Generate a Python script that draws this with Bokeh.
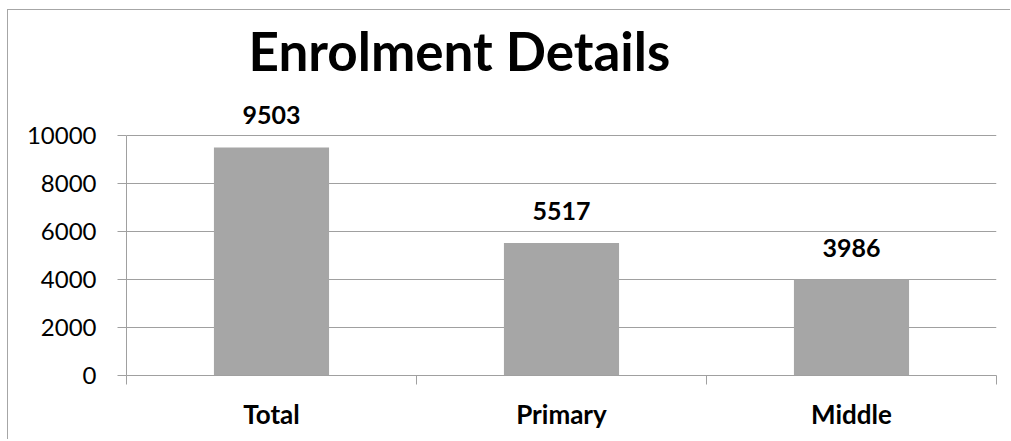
from bokeh.plotting import figure
from bokeh.models import ColumnDataSource, FixedTicker, LabelSet, Range1d
from bokeh.core.properties import value
from bokeh.embed import file_html
from bokeh.resources import INLINE

categories = ["Total", "Primary", "Middle"]
enrolment = [9503, 5517, 3986]
y_ticks = [0, 2000, 4000, 6000, 8000, 10000]

positions = [i + 0.5 for i in range(len(categories))]
boundaries = list(range(len(categories) + 1))

src = ColumnDataSource(dict(x=positions, y=enrolment, label=[str(v) for v in enrolment]))

GRAY = "#a6a6a6"
LINE = "#a0a0a0"
FONT = "Lato"

p = figure(width=1003, height=430, output_backend="svg", toolbar_location=None,
           x_range=Range1d(0, len(categories)), y_range=Range1d(0, 12000),
           min_border_left=118, min_border_right=15, min_border_top=77, min_border_bottom=65,
           title="Enrolment Details")
p.styles = {"margin-left": "7px", "margin-top": "9px",
            "border-left": "1px solid #a6a6a6", "border-top": "1px solid #a6a6a6"}
p.outline_line_color = None
p.background_fill_color = "white"
p.border_fill_color = "white"

p.title.text_font = FONT
p.title.text_font_size = "53px"
p.title.text_font_style = "bold"
p.title.text_color = "black"
p.title.align = "left"
p.title.offset = 122
p.title.standoff = 12

p.vbar(x="x", top="y", width=0.397, source=src, color=GRAY, line_color=None)

labels = LabelSet(x="x", y="y", text="label", source=src, text_align="center",
                  text_baseline="alphabetic", y_offset=23, text_font=value(FONT),
                  text_font_size=value("25px"), text_font_style="bold", text_color="black")
p.add_layout(labels)

# x axis
p.xaxis.ticker = FixedTicker(ticks=positions, minor_ticks=boundaries)
p.xaxis.major_label_overrides = {pos: c for pos, c in zip(positions, categories)}
p.xaxis.major_tick_line_color = None
p.xaxis.major_tick_in = 0
p.xaxis.major_tick_out = 0
p.xaxis.minor_tick_line_color = LINE
p.xaxis.minor_tick_in = 0
p.xaxis.minor_tick_out = 9
p.xaxis.axis_line_color = LINE
p.xaxis.major_label_text_font = FONT
p.xaxis.major_label_text_font_size = "26px"
p.xaxis.major_label_text_font_style = "bold"
p.xaxis.major_label_text_color = "black"
p.xaxis.major_label_standoff = 13
p.xgrid.grid_line_color = None

# y axis
p.yaxis.ticker = FixedTicker(ticks=y_ticks)
p.yaxis.bounds = (y_ticks[0], y_ticks[-1])
p.yaxis.axis_line_color = LINE
p.yaxis.major_tick_line_color = LINE
p.yaxis.major_tick_in = 0
p.yaxis.major_tick_out = 9
p.yaxis.minor_tick_line_color = None
p.yaxis.major_label_text_font = FONT
p.yaxis.major_label_text_font_size = "24px"
p.yaxis.major_label_text_color = "black"
p.yaxis.major_label_standoff = 21
p.ygrid.grid_line_color = LINE
p.ygrid.ticker = FixedTicker(ticks=y_ticks)

open("out.html", "w").write(file_html(p, INLINE))
